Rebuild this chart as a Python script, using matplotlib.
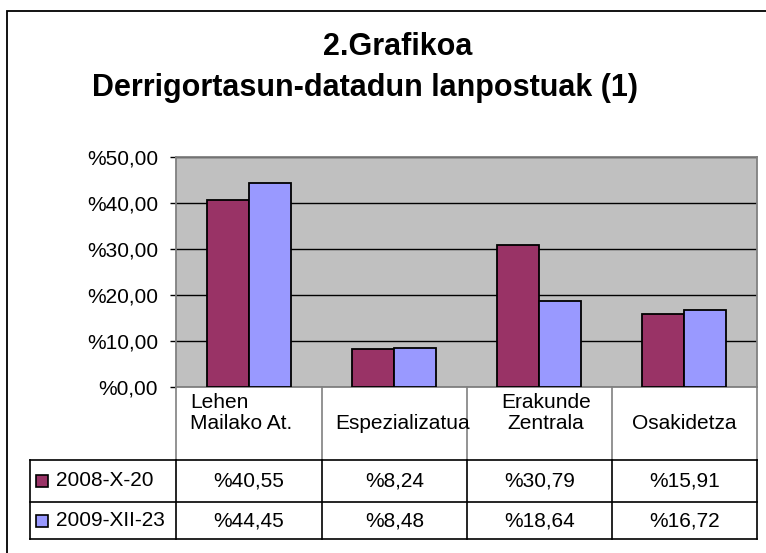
import matplotlib
matplotlib.use("Agg")
import matplotlib.pyplot as plt
from matplotlib.lines import Line2D
from matplotlib.patches import Rectangle
import numpy as np

plt.rcParams['font.family'] = ['Liberation Sans', 'DejaVu Sans']

# data
categories = ["Lehen\nMailako At.", "Espezializatua", "Erakunde\nZentrala", "Osakidetza"]
series_names = ["2008-X-20", "2009-XII-23"]
values_2008 = [40.55, 8.24, 30.79, 15.91]
values_2009 = [44.45, 8.48, 18.64, 16.72]
y_ticks = [0, 10, 20, 30, 40, 50]

color_2008 = "#993366"
color_2009 = "#9999FF"

W, H = 766, 553
fig = plt.figure(figsize=(W / 100, H / 100), dpi=100)


def fx(x):
    return x / W


def fy(y):
    return 1 - y / H


# outer chart border (only left and top visible)
fig.add_artist(Rectangle((fx(7), fy(600)), fx(800), fy(11) - fy(600),
                         transform=fig.transFigure, fill=False,
                         edgecolor="black", linewidth=1.3))

fig.text(fx(398), fy(47), "2.Grafikoa", ha="center", va="center",
         fontsize=22, fontweight="bold")
fig.text(fx(365), fy(88), "Derrigortasun-datadun lanpostuak (1)", ha="center",
         va="center", fontsize=22, fontweight="bold")

ax_left, ax_right, ax_top, ax_bottom = 176, 757, 157, 387
ax = fig.add_axes([fx(ax_left), fy(ax_bottom), fx(ax_right - ax_left),
                   fy(ax_top) - fy(ax_bottom)])
ax.set_facecolor("#C0C0C0")

x = np.arange(len(categories))
bw = 0.29
ax.bar(x - bw / 2, values_2008, bw, color=color_2008, edgecolor="black",
       linewidth=1.3, zorder=3)
ax.bar(x + bw / 2, values_2009, bw, color=color_2009, edgecolor="black",
       linewidth=1.3, zorder=3)

ax.set_xlim(-0.5, len(categories) - 0.5)
ax.set_ylim(0, 50)
ax.set_yticks(y_ticks)
ax.set_yticklabels(["%{:.2f}".format(v).replace(".", ",") for v in y_ticks],
                   fontsize=15)
ax.tick_params(axis="y", direction="out", length=4.5, width=1, pad=8.5,
               color="black")
ax.set_xticks([])
ax.grid(axis="y", color="black", linewidth=1, zorder=1)
for side in ["left", "right", "top", "bottom"]:
    ax.spines[side].set_color("#808080")
    ax.spines[side].set_linewidth(1.3)

# data table below the axes
col_edges = [ax_left, 322, 467, 612, ax_right]
header_bottom, row_mid, row_bottom = 460, 502, 539
table_left = 30


def hline(x0, x1, y, color="black"):
    fig.add_artist(Line2D([fx(x0), fx(x1)], [fy(y), fy(y)],
                          transform=fig.transFigure, color=color, linewidth=1.2))


def vline(x, y0, y1, color="black"):
    fig.add_artist(Line2D([fx(x), fx(x)], [fy(y0), fy(y1)],
                          transform=fig.transFigure, color=color, linewidth=1.2))


for ce in col_edges:
    vline(ce, ax_bottom, header_bottom, color="#808080")
    vline(ce, header_bottom, row_bottom)
vline(table_left, header_bottom, row_bottom)
for yy in [header_bottom, row_mid, row_bottom]:
    hline(table_left, ax_right, yy)

centers = [(col_edges[i] + col_edges[i + 1]) / 2 for i in range(len(categories))]
label_pos = [(190, "left"), (centers[1] + 8, "center"),
             (546, "center"), (684, "center")]
for cat, (lx, al) in zip(categories, label_pos):
    fig.text(fx(lx), fy(429), cat, ha=al, va="baseline", fontsize=15,
             multialignment="center" if al == "center" else "left",
             linespacing=1.1)

row_y = [481, 521]
for name, vals, col, ry in zip(series_names, [values_2008, values_2009],
                               [color_2008, color_2009], row_y):
    fig.add_artist(Rectangle((fx(36), fy(ry + 6)), fx(12), fy(ry - 6) - fy(ry + 6),
                             transform=fig.transFigure, facecolor=col,
                             edgecolor="black", linewidth=1.2))
    fig.text(fx(56), fy(ry), name, ha="left", va="center", fontsize=15)
    for c, v in zip(centers, vals):
        fig.text(fx(c), fy(ry), "%{:.2f}".format(v).replace(".", ","),
                 ha="center", va="center", fontsize=15)

fig.savefig("out.png", dpi=100)
